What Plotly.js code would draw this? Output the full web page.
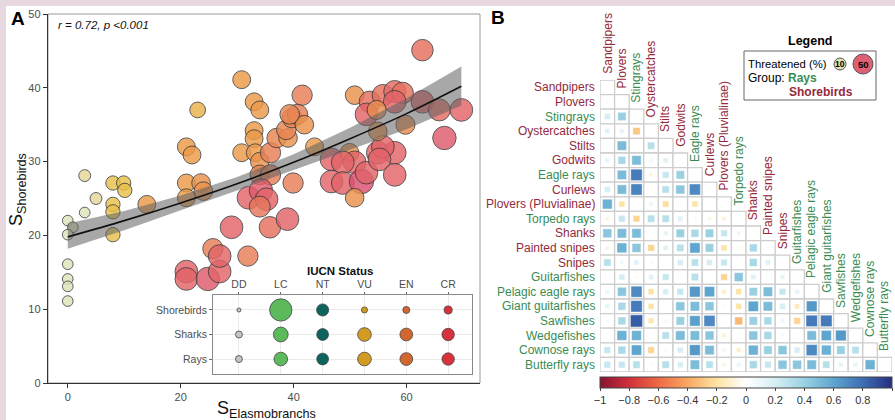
<!DOCTYPE html>
<html><head><meta charset="utf-8">
<script src="https://cdn.plot.ly/plotly-3.0.1.min.js"></script>
<style>html,body{margin:0;padding:0;background:#fff}#chart{width:895px;height:420px}</style>
</head><body><div id="chart"></div>
<script>
// ---------------- Panel A data ----------------
const ptX = [0,0.9,0,0,0,0,0,3, 3,5, 8,9.9,10.1,8,8,8, 14,
  21,22,23,21,23.6,24,21,
  21,21,24.8,26.9,25.7,26.9,31.9,29,35.8,38.9,
  30.8,33,34,33,33,30.8,33.2,34,35.9,37,39,38.7,39.7,40.7,41.5,34,35.9,39.9,32,34.2,35.2,34,41.9,39.3,
  43.7,46.7,49.9,50.8,48.7,46.7,48.7,52,52.9,50.8,54.9,57.9,55.8,55.2,57.9,54.9,59.8,62.8,50.8,53.5,55.8,57.9,59.3,57.9,62.8,65.8,69.7,52.9,54.7,66.7];
const ptY = [22,21.1,20.1,16.1,14.1,13.1,11.1,23.1, 28.1,25, 27.1,27.1,26.1,24.2,23.2,20.1, 24.2,
  32,30.9,37,27.1,27.1,26,25.1,
  15.1,14.1,14.1,15.1,18.2,17.2,17.2,21.1,21.1,22.2,
  41.1,38.1,37,34.2,33.1,31.2,31.2,30,31.2,33.2,33.2,34.3,35.9,36.4,39,28.2,28.2,27.1,25.1,26.1,24.9,23.9,35,36.4,
  32,30.3,31.2,29.9,29.9,27.3,27.1,27.3,28.5,25.1,31.2,31.2,32,30.3,28.2,34.1,35,45.1,39,38.1,39,39.5,39.3,38.1,38.1,37,37,36.4,37,33.2];
const ptThr = [5,5,5,5,5,5,5,5, 10,10, 20,20,20,20,20,20, 35,
  35,35,26,35,38,38,35,
  55,55,58,55,45,55,45,55,50,55,
  35,35,35,35,35,35,35,38,45,42,38,42,42,45,45,42,45,45,55,58,55,48,38,42,
  35,55,38,55,55,55,55,62,55,38,55,55,55,55,55,38,40,50,38,50,50,52,50,55,55,52,55,55,40,58];

const fitX  = [0,10,20,30,40,50,60,69.7];
const fitY  = [19.8,22.0,24.4,27.0,29.9,33.1,36.5,40.2];
const fitLo = [18.2,20.7,23.4,26.1,28.8,31.6,34.4,37.6];
const fitHi = [21.6,23.3,25.4,27.9,31.0,34.6,38.6,42.9];

const iucnCats = ['DD','LC','NT','VU','EN','CR'];
const iucnGroups = ['Rays','Sharks','Shorebirds'];
const iucnShorebirds = [2,61,18,4.5,6,8];
const iucnSharks = [6,27,17,23,20,19];
const iucnRays = [6,23,17,23,20,19];
const iucnColors = ['#c6c6bf','#5cba5c','#0b645d','#d39b22','#d2682f','#d7323b'];

// ---------------- Panel B data ----------------
const matNames = ['Sandpipers','Plovers','Stingrays','Oystercatches','Stilts','Godwits','Eagle rays','Curlews','Plovers (Pluvialinae)','Torpedo rays','Shanks','Painted snipes','Snipes','Guitarfishes','Pelagic eagle rays','Giant guitarfishes','Sawfishes','Wedgefishes','Cownose rays','Butterfly rays'];
const matGroup = ['S','S','R','S','S','S','R','S','S','R','S','S','S','R','R','R','R','R','R','R'];
const corrLower = [
  [],
  [0.05],
  [0.2,0.4],
  [0.15,0.12,-0.3],
  [0.04,0.5,0.03,0.3],
  [0.12,0.35,0.5,0.08,0.15],
  [0,0.5,0.75,-0.08,0.25,0.4],
  [0.2,0.5,0.72,0,0.3,0.45,0.7],
  [0.55,-0.2,0.03,0.1,-0.22,0,-0.2,0],
  [-0.08,0.25,-0.25,0.3,0.3,0.15,-0.05,-0.07,-0.1],
  [0.45,0.5,0.5,0.02,0.12,0.4,0.35,0.4,0.25,0.1],
  [-0.08,0.55,0.45,-0.25,0.15,0.3,0.6,0.4,-0.2,-0.06,0.35],
  [0.3,0.08,0.15,-0.05,0.03,0.2,0.3,0.2,0.25,0,0.35,0.15],
  [0,0.2,-0.05,0.15,0.25,0,0.3,0.04,-0.25,0.45,0.15,0.05,0.12],
  [0.1,0.45,0.7,-0.2,0.2,0.25,0.65,0.6,-0.12,-0.2,0.4,0.5,0.25,0.12],
  [0.12,0.35,0.75,-0.2,0.03,0.45,0.5,0.45,0.05,-0.2,0.6,0.5,0.2,-0.15,0.65],
  [0.06,0.35,0.85,-0.18,0.06,0.4,0.62,0.7,0.01,-0.35,0.4,0.35,0.1,-0.25,0.75,0.75],
  [0,0.55,0.55,0.02,0.3,0.5,0.5,0.45,-0.1,0.02,0.45,0.35,0.06,0,0.5,0.6,0.65],
  [0.25,0.35,0.6,-0.25,0.05,0.2,0.65,0.5,0.08,-0.12,0.55,0.4,0.45,0.2,0.7,0.55,0.4,0.3],
  [0.25,0.25,0.3,-0.05,0.3,0.2,0.5,0.3,-0.08,0.1,0.35,0.25,0.45,0.45,0.5,0.3,0.12,0.12,0.55]
];
const cbTicks = [-1,-0.8,-0.6,-0.4,-0.2,0,0.2,0.4,0.6,0.8,1];

// ---------------- helpers ----------------
const W = 895, H = 420;
const px = v => v / W;
const py = v => 1 - v / H;
const colRays = '#3a8c52', colBirds = '#94293b';
const FONT = 'Liberation Sans, Arial, Helvetica, sans-serif';

const traces = [];
// scatter points
traces.push({
  type:'scatter', mode:'markers', x: ptX, y: ptY, xaxis:'x', yaxis:'y',
  marker:{
    size: ptThr.map(t => 9.5 + 0.24 * t), color: ptThr, cmin:0, cmax:65,
    colorscale:[[0,'#dfe5c2'],[0.077,'#dfe4bb'],[0.15,'#e3da9e'],[0.3,'#e9c24a'],[0.54,'#eb9a48'],[0.74,'#e7755a'],[0.85,'#e2636a'],[1,'#d84874']],
    opacity:0.82, line:{color:'#3a3a3a', width:1}
  }, hoverinfo:'skip'
});
// confidence band
traces.push({
  type:'scatter', mode:'lines', xaxis:'x', yaxis:'y',
  x: fitX.concat(fitX.slice().reverse()), y: fitHi.concat(fitLo.slice().reverse()),
  fill:'toself', fillcolor:'rgba(96,96,96,0.55)', line:{width:0}, hoverinfo:'skip'
});
// fit line
traces.push({
  type:'scatter', mode:'lines', xaxis:'x', yaxis:'y', x: fitX, y: fitY,
  line:{color:'#111', width:1.6, shape:'spline'}, hoverinfo:'skip'
});
// inset bubbles
iucnCats.forEach((c, k) => {
  const vals = [iucnRays[k], iucnSharks[k], iucnShorebirds[k]];
  traces.push({
    type:'scatter', mode:'markers', xaxis:'x2', yaxis:'y2',
    x:[k,k,k], y:[0,1,2],
    marker:{size: vals.map(v => 2.85 * Math.sqrt(v)), color: iucnColors[k], opacity:1, line:{color:'#444', width:0.8}},
    hoverinfo:'skip'
  });
});
// correlation squares
const mx = [], my = [], mv = [], ms = [];
corrLower.forEach((row, i) => row.forEach((r, j) => {
  if (Math.abs(r) > 0.005) { mx.push(j); my.push(i); mv.push(r); ms.push(13.2 * Math.sqrt(Math.abs(r))); }
}));
traces.push({
  type:'scatter', mode:'markers', xaxis:'x3', yaxis:'y3', x: mx, y: my,
  marker:{
    symbol:'square', size: ms, color: mv, cmin:-1, cmax:1, opacity:1,
    colorscale:[[0,'#861530'],[0.1,'#d0303a'],[0.2,'#ee6a45'],[0.3,'#f9a862'],[0.4,'#fde4a4'],[0.5,'#ffffff'],[0.6,'#d6eef4'],[0.7,'#9ad1e2'],[0.8,'#5ea6cf'],[0.9,'#3d6db3'],[1,'#262e80']],
    line:{color:'rgba(255,255,255,0.45)', width:1},
    showscale:true,
    colorbar:{orientation:'h', x: px(746), xanchor:'center', y: py(377), yanchor:'top',
      len:292, lenmode:'pixels', thickness:11, thicknessmode:'pixels', xpad:0, ypad:0,
      outlinewidth:1, outlinecolor:'#444', tickmode:'array', tickvals: cbTicks,
      ticks:'outside', ticklen:3, tickcolor:'#444', tickfont:{size:11, color:'#333', family:FONT}}
  }, hoverinfo:'skip'
});

// ---------------- shapes ----------------
const shapes = [
  {type:'rect', xref:'paper', yref:'paper', x0:0, x1:1, y0:py(6), y1:1, fillcolor:'#e7d8e0', line:{width:0}, layer:'below'},
  {type:'rect', xref:'paper', yref:'paper', x0:0, x1:px(6), y0:0, y1:1, fillcolor:'#e7d8e0', line:{width:0}, layer:'below'},
  {type:'rect', xref:'x domain', yref:'y domain', x0:0, x1:1, y0:0, y1:1, line:{color:'#9a9a9a', width:1}, layer:'below'},
  {type:'rect', xref:'paper', yref:'paper', x0:px(744), x1:px(876), y0:py(100), y1:py(51), line:{color:'#666', width:1}},
  {type:'circle', xref:'paper', yref:'paper', x0:px(834), x1:px(846), y0:py(70), y1:py(58), fillcolor:'#dfe2b2', line:{color:'#555', width:1}},
  {type:'circle', xref:'paper', yref:'paper', x0:px(853), x1:px(873), y0:py(74), y1:py(54), fillcolor:'#df5f73', line:{color:'#555', width:1}}
];
for (let i = 0; i < matNames.length; i++) {
  for (let j = 0; j <= i; j++) {
    shapes.push({type:'rect', xref:'x3', yref:'y3', x0:j-0.5, x1:j+0.5, y0:i-0.5, y1:i+0.5,
      fillcolor:'white', line:{color:'#cdcdcd', width:1.3}, layer:'below'});
  }
}

// ---------------- annotations ----------------
const ann = [
  {text:'<b>A</b>', xref:'paper', yref:'paper', x:px(9), y:py(19), xanchor:'left', yanchor:'middle', font:{size:19, color:'#000'}},
  {text:'<b>B</b>', xref:'paper', yref:'paper', x:px(489), y:py(18), xanchor:'left', yanchor:'middle', font:{size:19, color:'#000'}},
  {text:'<i>r = 0.72, p <0.001</i>', xref:'paper', yref:'paper', x:px(56), y:py(25), xanchor:'left', yanchor:'middle', font:{size:11.5, color:'#111'}},
  {text:'S<sub>Elasmobranchs</sub>', xref:'paper', yref:'paper', x:px(266), y:py(409), xanchor:'center', yanchor:'middle', font:{size:18, color:'#111'}},
  {text:'S<sub>Shorebirds</sub>', xref:'paper', yref:'paper', x:px(18), y:py(190), xanchor:'center', yanchor:'middle', textangle:-90, font:{size:18, color:'#111'}},
  {text:'<b>IUCN Status</b>', xref:'paper', yref:'paper', x:px(340), y:py(271), xanchor:'center', yanchor:'middle', font:{size:11.5, color:'#111'}},
  {text:'<b>Legend</b>', xref:'paper', yref:'paper', x:px(810), y:py(41), xanchor:'center', yanchor:'middle', font:{size:12.5, color:'#000'}},
  {text:'Threatened (%)', xref:'paper', yref:'paper', x:px(746), y:py(64), xanchor:'left', yanchor:'middle', font:{size:11.3, color:'#000'}},
  {text:'<b>10</b>', xref:'paper', yref:'paper', x:px(840), y:py(64), xanchor:'center', yanchor:'middle', font:{size:8.5, color:'#000'}},
  {text:'<b>50</b>', xref:'paper', yref:'paper', x:px(863), y:py(64), xanchor:'center', yanchor:'middle', font:{size:9.5, color:'#000'}},
  {text:'Group: <b><span style="color:' + colRays + '">Rays</span></b>', xref:'paper', yref:'paper', x:px(746), y:py(78), xanchor:'left', yanchor:'middle', font:{size:12, color:'#000'}},
  {text:'<b>Shorebirds</b>', xref:'paper', yref:'paper', x:px(787), y:py(92), xanchor:'left', yanchor:'middle', font:{size:12, color:colBirds}}
];
matNames.forEach((n, i) => {
  const c = matGroup[i] === 'R' ? colRays : colBirds;
  ann.push({text:n, xref:'x3', yref:'y3', x:-0.5, y:i, xanchor:'right', yanchor:'middle', xshift:-3, font:{size:12, color:c}});
  ann.push({text:n, xref:'x3', yref:'y3', x:i, y:i-0.5, xanchor:'center', yanchor:'bottom', yshift:4, textangle:-90, font:{size:12, color:c}});
});
ann.forEach(a => { a.showarrow = false; });

const tickF = {size:11, color:'#4d4d4d', family:FONT};
const layout = {
  width:W, height:H, margin:{l:0, r:0, t:0, b:0}, paper_bgcolor:'white', plot_bgcolor:'white',
  showlegend:false, font:{family:FONT, color:'#222'},
  xaxis:{domain:[px(48), px(480)], anchor:'y', range:[-3.5,73], tickvals:[0,20,40,60], ticks:'outside', ticklen:4, tickcolor:'#333',
    showgrid:false, zeroline:false, showline:true, linecolor:'#333', linewidth:1.2, tickfont:tickF},
  yaxis:{domain:[py(383), py(14)], anchor:'x', range:[0,50], tickvals:[0,10,20,30,40,50], ticks:'outside', ticklen:4, tickcolor:'#333',
    showgrid:false, zeroline:false, showline:true, linecolor:'#333', linewidth:1.2, tickfont:tickF},
  xaxis2:{domain:[px(213), px(472)], anchor:'y2', range:[-0.62,5.57], tickvals:[0,1,2,3,4,5], ticktext:iucnCats, side:'top',
    ticks:'outside', ticklen:2, tickcolor:'#666', showgrid:true, gridcolor:'#ebebeb', zeroline:false, showline:true, mirror:true,
    linecolor:'#888', tickfont:{size:10.5, color:'#4d4d4d', family:FONT}},
  yaxis2:{domain:[py(374), py(295)], anchor:'x2', range:[-0.61,2.61], tickvals:[0,1,2], ticktext:iucnGroups,
    ticks:'outside', ticklen:3, tickcolor:'#666', showgrid:true, gridcolor:'#ebebeb', zeroline:false, showline:true, mirror:true,
    linecolor:'#888', tickfont:{size:10.5, color:'#4d4d4d', family:FONT}},
  xaxis3:{domain:[px(600), px(892)], anchor:'y3', range:[-0.5,19.5], visible:false},
  yaxis3:{domain:[py(372), py(80)], anchor:'x3', range:[19.5,-0.5], visible:false},
  shapes: shapes, annotations: ann
};
Plotly.newPlot('chart', traces, layout, {staticPlot:true, displayModeBar:false});
</script></body></html>
